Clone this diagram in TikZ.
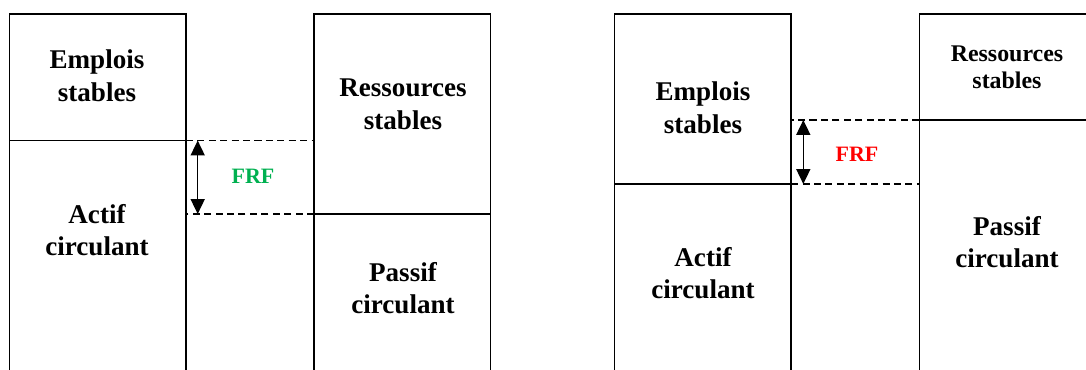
\documentclass[tikz,border=0pt]{standalone}
\usepackage{fontspec}
\setmainfont{Liberation Serif}
\usetikzlibrary{arrows.meta}

\definecolor{frfgreen}{RGB}{0,176,80}
\definecolor{frfred}{RGB}{255,0,0}

\tikzset{
  block/.style={draw, line width=0.85pt, inner sep=0pt, outer sep=0pt, anchor=north west, minimum width=3.53cm},
  caption/.style={font=\bfseries\fontsize{15.4}{18.6}\selectfont, align=center},
  gap/.style={line width=0.8pt, dash pattern=on 4pt off 2.5pt},
  span/.style={{Triangle[length=8.5pt,width=8pt]}-{Triangle[length=8.5pt,width=8pt]}, line width=0.8pt},
}

\begin{document}
\begin{tikzpicture}[x=0.02cm, y=-0.02cm]
\useasboundingbox (0,0) rectangle (1086,369);
\clip (0,0) rectangle (1086,369);

% FRF positif
\node[block, minimum height=2.53cm] (es1) at (9.5,14) {};
\node[block, minimum height=4.79cm] (ac1) at (9.5,140.5) {};
\node[block, minimum height=4cm] (rs1) at (314,14) {};
\node[block, minimum height=3.32cm] (pc1) at (314,214) {};
\node[caption] (es1t) at (97,76) {Emplois\\stables};
\node[caption] (rs1t) at (403,104) {Ressources\\stables};
\node[caption] (ac1t) at (97,230) {Actif\\circulant};
\node[caption] (pc1t) at (403,288) {Passif\\circulant};
\draw[gap] (es1.south east) -- (es1.south east -| rs1.west);
\draw[gap] (pc1.north west) -- (pc1.north west -| ac1.east);
\coordinate (top1) at (197.7,140.5);
\coordinate (bot1) at (197.7,214);
\draw[span] (top1) -- (bot1);
\node[font=\bfseries\fontsize{12.5}{15}\selectfont, text=frfgreen] (frf1) at (253,176) {FRF};

% FRF negatif
\node[block, minimum height=3.4cm] (es2) at (614.7,14) {};
\node[block, minimum height=3.92cm] (ac2) at (614.7,184) {};
\node[block, minimum height=2.12cm] (rs2) at (919.3,14) {};
\node[block, minimum height=5.2cm] (pc2) at (919.3,120) {};
\node[caption] (es2t) at (703,108) {Emplois\\stables};
\node[caption, font=\bfseries\fontsize{13.6}{15.6}\selectfont] (rs2t) at (1007,67) {Ressources\\stables};
\node[caption] (ac2t) at (703,273) {Actif\\circulant};
\node[caption] (pc2t) at (1007,242) {Passif\\circulant};
\draw[gap] (pc2.north west) -- (pc2.north west -| es2.east);
\draw[gap] (ac2.north east) -- (ac2.north east -| pc2.west);
\coordinate (top2) at (803.3,120);
\coordinate (bot2) at (803.3,184);
\draw[span] (top2) -- (bot2);
\node[font=\bfseries\fontsize{12.5}{15}\selectfont, text=frfred] (frf2) at (857,154) {FRF};
\end{tikzpicture}
\end{document}
